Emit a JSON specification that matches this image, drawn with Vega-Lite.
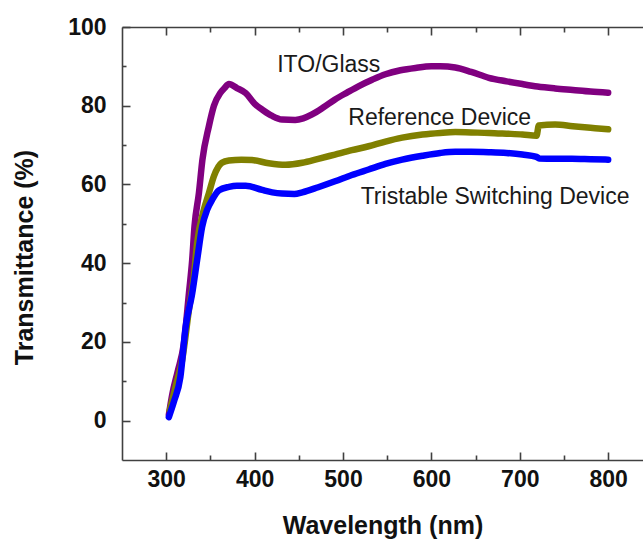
{
  "$schema": "https://vega.github.io/schema/vega-lite/v6.json",
  "width": 521,
  "height": 433,
  "autosize": {"type": "none"},
  "padding": {"left": 122, "top": 27, "right": 0, "bottom": 79},
  "background": "white",
  "config": {
    "view": {"stroke": null},
    "axis": {
      "grid": false,
      "domainColor": "#404040",
      "domainWidth": 1.6,
      "tickColor": "#404040",
      "tickWidth": 1.6,
      "labelFont": "Liberation Sans",
      "labelFontWeight": "bold",
      "labelFontSize": 23,
      "labelColor": "#111111",
      "titleFont": "Liberation Sans",
      "titleFontWeight": "bold",
      "titleFontSize": 25,
      "titleColor": "#111111"
    }
  },
  "datasets": {
    "series": [
      {"s": "ITO/Glass", "w": 303, "t": 1.5},
      {"s": "ITO/Glass", "w": 307, "t": 6.8},
      {"s": "ITO/Glass", "w": 313, "t": 12.5},
      {"s": "ITO/Glass", "w": 320, "t": 19.6},
      {"s": "ITO/Glass", "w": 325.7, "t": 32.3},
      {"s": "ITO/Glass", "w": 329.4, "t": 40.8},
      {"s": "ITO/Glass", "w": 332, "t": 49.3},
      {"s": "ITO/Glass", "w": 337, "t": 57.8},
      {"s": "ITO/Glass", "w": 341, "t": 66.3},
      {"s": "ITO/Glass", "w": 348.3, "t": 74.8},
      {"s": "ITO/Glass", "w": 354, "t": 80},
      {"s": "ITO/Glass", "w": 361.4, "t": 83.3},
      {"s": "ITO/Glass", "w": 366, "t": 84.5},
      {"s": "ITO/Glass", "w": 371, "t": 85.5},
      {"s": "ITO/Glass", "w": 380, "t": 84.5},
      {"s": "ITO/Glass", "w": 390, "t": 83.2},
      {"s": "ITO/Glass", "w": 400, "t": 80.5},
      {"s": "ITO/Glass", "w": 410, "t": 78.8},
      {"s": "ITO/Glass", "w": 420, "t": 77.4},
      {"s": "ITO/Glass", "w": 431, "t": 76.5},
      {"s": "ITO/Glass", "w": 446, "t": 76.4},
      {"s": "ITO/Glass", "w": 455, "t": 76.8},
      {"s": "ITO/Glass", "w": 465, "t": 77.8},
      {"s": "ITO/Glass", "w": 478, "t": 79.6},
      {"s": "ITO/Glass", "w": 491, "t": 81.6},
      {"s": "ITO/Glass", "w": 505, "t": 83.4},
      {"s": "ITO/Glass", "w": 518, "t": 85},
      {"s": "ITO/Glass", "w": 533, "t": 86.6},
      {"s": "ITO/Glass", "w": 548, "t": 88},
      {"s": "ITO/Glass", "w": 565, "t": 89},
      {"s": "ITO/Glass", "w": 582, "t": 89.6},
      {"s": "ITO/Glass", "w": 600, "t": 90},
      {"s": "ITO/Glass", "w": 610, "t": 90},
      {"s": "ITO/Glass", "w": 627, "t": 89.7},
      {"s": "ITO/Glass", "w": 645, "t": 88.6},
      {"s": "ITO/Glass", "w": 665, "t": 87.1},
      {"s": "ITO/Glass", "w": 685, "t": 86.2},
      {"s": "ITO/Glass", "w": 703, "t": 85.5},
      {"s": "ITO/Glass", "w": 720, "t": 84.9},
      {"s": "ITO/Glass", "w": 740, "t": 84.4},
      {"s": "ITO/Glass", "w": 760, "t": 84},
      {"s": "ITO/Glass", "w": 780, "t": 83.6},
      {"s": "ITO/Glass", "w": 800, "t": 83.3},
      {"s": "Reference Device", "w": 304, "t": 2.5},
      {"s": "Reference Device", "w": 311, "t": 9},
      {"s": "Reference Device", "w": 318, "t": 15.3},
      {"s": "Reference Device", "w": 325.7, "t": 28.1},
      {"s": "Reference Device", "w": 331.3, "t": 36.6},
      {"s": "Reference Device", "w": 335, "t": 45.1},
      {"s": "Reference Device", "w": 342.6, "t": 53.6},
      {"s": "Reference Device", "w": 348.3, "t": 57.8},
      {"s": "Reference Device", "w": 354, "t": 62.1},
      {"s": "Reference Device", "w": 363, "t": 65.5},
      {"s": "Reference Device", "w": 371, "t": 66.1},
      {"s": "Reference Device", "w": 385, "t": 66.3},
      {"s": "Reference Device", "w": 397, "t": 66.2},
      {"s": "Reference Device", "w": 416, "t": 65.4},
      {"s": "Reference Device", "w": 435, "t": 65},
      {"s": "Reference Device", "w": 454, "t": 65.5},
      {"s": "Reference Device", "w": 472, "t": 66.5},
      {"s": "Reference Device", "w": 491, "t": 67.6},
      {"s": "Reference Device", "w": 510, "t": 68.7},
      {"s": "Reference Device", "w": 529, "t": 69.7},
      {"s": "Reference Device", "w": 548, "t": 70.9},
      {"s": "Reference Device", "w": 567, "t": 71.9},
      {"s": "Reference Device", "w": 590, "t": 72.7},
      {"s": "Reference Device", "w": 610, "t": 73.1},
      {"s": "Reference Device", "w": 627, "t": 73.3},
      {"s": "Reference Device", "w": 645, "t": 73.2},
      {"s": "Reference Device", "w": 665, "t": 73.1},
      {"s": "Reference Device", "w": 685, "t": 72.9},
      {"s": "Reference Device", "w": 703, "t": 72.7},
      {"s": "Reference Device", "w": 719, "t": 72.4},
      {"s": "Reference Device", "w": 721.5, "t": 75},
      {"s": "Reference Device", "w": 740, "t": 75.2},
      {"s": "Reference Device", "w": 760, "t": 74.8},
      {"s": "Reference Device", "w": 780, "t": 74.4},
      {"s": "Reference Device", "w": 800, "t": 74},
      {"s": "Tristable Switching Device", "w": 303, "t": 0.9},
      {"s": "Tristable Switching Device", "w": 309, "t": 5},
      {"s": "Tristable Switching Device", "w": 316, "t": 11},
      {"s": "Tristable Switching Device", "w": 322, "t": 23.8},
      {"s": "Tristable Switching Device", "w": 329.4, "t": 32.3},
      {"s": "Tristable Switching Device", "w": 335, "t": 40.8},
      {"s": "Tristable Switching Device", "w": 340.7, "t": 49.3},
      {"s": "Tristable Switching Device", "w": 346.4, "t": 53.6},
      {"s": "Tristable Switching Device", "w": 352, "t": 56.1},
      {"s": "Tristable Switching Device", "w": 359.6, "t": 58.5},
      {"s": "Tristable Switching Device", "w": 371, "t": 59.4},
      {"s": "Tristable Switching Device", "w": 380, "t": 59.7},
      {"s": "Tristable Switching Device", "w": 390, "t": 59.7},
      {"s": "Tristable Switching Device", "w": 408.6, "t": 58.6},
      {"s": "Tristable Switching Device", "w": 420, "t": 58},
      {"s": "Tristable Switching Device", "w": 431, "t": 57.7},
      {"s": "Tristable Switching Device", "w": 445, "t": 57.6},
      {"s": "Tristable Switching Device", "w": 454, "t": 58},
      {"s": "Tristable Switching Device", "w": 472, "t": 59.3},
      {"s": "Tristable Switching Device", "w": 491, "t": 60.8},
      {"s": "Tristable Switching Device", "w": 510, "t": 62.4},
      {"s": "Tristable Switching Device", "w": 529, "t": 63.8},
      {"s": "Tristable Switching Device", "w": 548, "t": 65.2},
      {"s": "Tristable Switching Device", "w": 567, "t": 66.3},
      {"s": "Tristable Switching Device", "w": 590, "t": 67.3},
      {"s": "Tristable Switching Device", "w": 610, "t": 68},
      {"s": "Tristable Switching Device", "w": 627, "t": 68.3},
      {"s": "Tristable Switching Device", "w": 645, "t": 68.3},
      {"s": "Tristable Switching Device", "w": 665, "t": 68.2},
      {"s": "Tristable Switching Device", "w": 685, "t": 68},
      {"s": "Tristable Switching Device", "w": 703, "t": 67.6},
      {"s": "Tristable Switching Device", "w": 719, "t": 67},
      {"s": "Tristable Switching Device", "w": 722, "t": 66.6},
      {"s": "Tristable Switching Device", "w": 740, "t": 66.5},
      {"s": "Tristable Switching Device", "w": 759, "t": 66.5},
      {"s": "Tristable Switching Device", "w": 780, "t": 66.4},
      {"s": "Tristable Switching Device", "w": 800, "t": 66.3}
    ],
    "labels": [
      {"label": "ITO/Glass", "w": 425.6, "t": 90.4},
      {"label": "Reference Device", "w": 506, "t": 76.9},
      {"label": "Tristable Switching Device", "w": 520, "t": 56.9}
    ]
  },
  "resolve": {"axis": {"x": "independent", "y": "independent"}},
  "layer": [
    {
      "data": {"name": "series"},
      "mark": {"type": "line", "strokeWidth": 6.5, "strokeCap": "round", "strokeJoin": "round", "interpolate": "monotone"},
      "encoding": {
        "x": {"field": "w", "type": "quantitative",
          "scale": {"domain": [250, 839.4], "nice": false, "zero": false},
          "axis": {"orient": "bottom", "values": [300, 400, 500, 600, 700, 800], "tickSize": -8, "labelPadding": 16, "title": "Wavelength (nm)", "titlePadding": 22}},
        "y": {"field": "t", "type": "quantitative",
          "scale": {"domain": [-10, 100], "nice": false, "zero": false},
          "axis": {"orient": "left", "values": [0, 20, 40, 60, 80, 100], "tickSize": -8, "labelPadding": 24, "title": "Transmittance (%)", "titlePadding": 30, "titleY": 230}},
        "color": {"field": "s", "type": "nominal",
          "scale": {"domain": ["ITO/Glass", "Reference Device", "Tristable Switching Device"], "range": ["#800080", "#808000", "#0000ff"]},
          "legend": null}
      }
    },
    {
      "data": {"name": "labels"},
      "mark": {"type": "text", "align": "left", "baseline": "middle", "font": "Liberation Sans", "fontSize": 23, "color": "#1a1a1a"},
      "encoding": {
        "x": {"field": "w", "type": "quantitative",
          "axis": {"orient": "bottom", "values": [350, 450, 550, 650, 750], "tickSize": -5, "labels": false, "domain": false, "title": null}},
        "y": {"field": "t", "type": "quantitative",
          "axis": {"orient": "left", "values": [10, 30, 50, 70, 90], "tickSize": -4, "labels": false, "domain": false, "title": null}},
        "text": {"field": "label"}
      }
    },
    {
      "data": {"name": "labels"},
      "mark": {"type": "point", "opacity": 0},
      "encoding": {
        "x": {"field": "w", "type": "quantitative",
          "axis": {"orient": "top", "values": [300, 400, 500, 600, 700, 800], "tickSize": -8, "labels": false, "title": null}},
        "y": {"field": "t", "type": "quantitative", "axis": null}
      }
    },
    {
      "data": {"name": "labels"},
      "mark": {"type": "point", "opacity": 0},
      "encoding": {
        "x": {"field": "w", "type": "quantitative",
          "axis": {"orient": "top", "values": [350, 450, 550, 650, 750], "tickSize": -5, "labels": false, "domain": false, "title": null}},
        "y": {"field": "t", "type": "quantitative", "axis": null}
      }
    }
  ]
}
